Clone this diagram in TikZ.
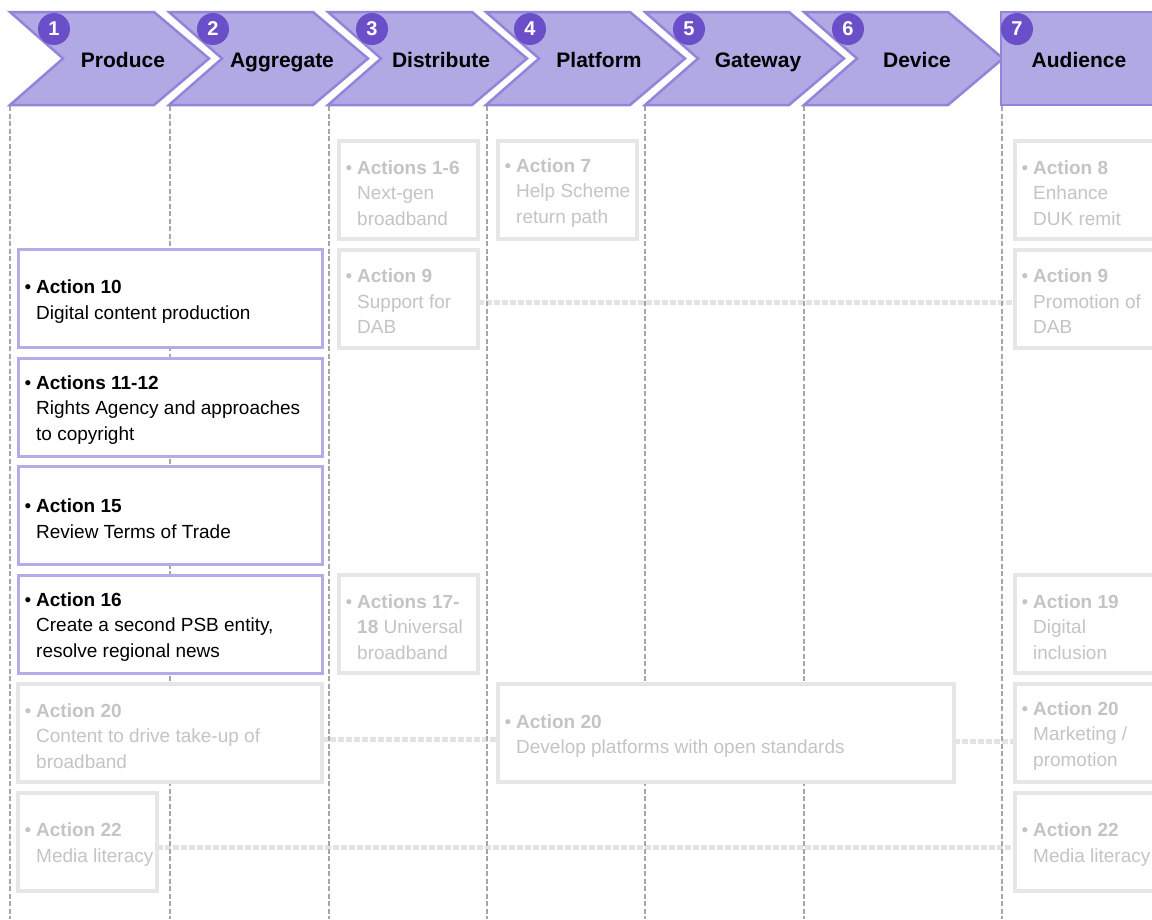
\documentclass[tikz,border=0pt]{standalone}
\usepackage{fontspec}
\setmainfont{Liberation Sans}
\pgfdeclarelayer{background}
\pgfsetlayers{background,main}
\definecolor{chevfill}{HTML}{B1A9E3}
\definecolor{chevline}{HTML}{9383DB}
\definecolor{numfill}{HTML}{6B4FC9}
\definecolor{boxline}{HTML}{B4ACE6}
\definecolor{greyline}{HTML}{E6E6E6}
\definecolor{greytext}{HTML}{C4C4C4}
\definecolor{vline}{HTML}{A6A6A6}
\definecolor{dotline}{HTML}{E3E3E3}
\begin{document}
\begin{tikzpicture}[x=1pt,y=-1pt,
  chev/.style={fill=chevfill,draw=chevline,line width=2.5pt,line join=miter},
  chevlabel/.style={font=\fontsize{21}{24}\selectfont\bfseries,text=black,inner sep=0pt,anchor=base},
  numcirc/.style={circle,fill=numfill,text=white,minimum size=32pt,inner sep=0pt,font=\fontsize{20}{22}\selectfont\bfseries},
  pbox/.style={rectangle,draw=boxline,fill=white,line width=3pt,anchor=north west,minimum height=98pt,inner sep=0pt,outer sep=0pt},
  gbox/.style={rectangle,draw=greyline,fill=white,line width=4pt,anchor=north west,minimum height=98pt,inner sep=0pt,outer sep=0pt},
  txt/.style={anchor=west,align=left,inner sep=0pt,text=black,font=\fontsize{19}{25.5}\selectfont,yshift=-3pt},
  gtxt/.style={txt,text=greytext},
  vdash/.style={draw=vline,line width=1.8pt,dash pattern=on 5pt off 2.5pt},
  dotc/.style={draw=dotline,line width=5pt,dash pattern=on 6pt off 2pt}]
\useasboundingbox (0,0) rectangle (1152,919);

% header chevrons
\foreach \L/\n/\lab in {10/1/Produce,169/2/Aggregate,328/3/Distribute,486/4/Platform,645/5/Gateway,804/6/Device}{
  \draw[chev] (\L,12) -- ({\L+144},12) -- ({\L+199},58.5) -- ({\L+144},105) -- (\L,105) -- ({\L+53},58.5) -- cycle;
  \node[chevlabel] (lab\n) at ({\L+113},67) {\lab};
  \node[numcirc] (num\n) at ({\L+44},29) {\n};
}
\draw[chev] (1001,12) rectangle (1175,105);
\node[chevlabel] (lab7) at (1079,67) {Audience};
\node[numcirc] (num7) at (1017,29) {7};

% purple boxes
\node[pbox,minimum width=304pt] (b10) at (18,249.5) {};
\node[txt] (t10) at ([xshift=18pt]b10.west) {\llap{\textbullet\hspace{5pt}}\textbf{Action 10}\\Digital content production};
\node[pbox,minimum width=304pt] (b11) at (18,358) {};
\node[txt] (t11) at ([xshift=18pt]b11.west) {\llap{\textbullet\hspace{5pt}}\textbf{Actions 11-12}\\Rights Agency and approaches\\to copyright};
\node[pbox,minimum width=304pt] (b15) at (18,466.5) {};
\node[txt] (t15) at ([xshift=18pt]b15.west) {\llap{\textbullet\hspace{5pt}}\textbf{Action 15}\\Review Terms of Trade};
\node[pbox,minimum width=304pt] (b16) at (18,575) {};
\node[txt] (t16) at ([xshift=18pt]b16.west) {\llap{\textbullet\hspace{5pt}}\textbf{Action 16}\\Create a second PSB entity,\\resolve regional news};

% grey boxes
\node[gbox,minimum width=139pt] (g16) at (339,141) {};
\node[gtxt] (tg16) at ([xshift=18pt]g16.west) {\llap{\textbullet\hspace{5pt}}\textbf{Actions 1-6}\\Next-gen\\broadband};
\node[gbox,minimum width=139pt] (g7) at (498,141) {};
\node[gtxt] (tg7) at ([xshift=18pt]g7.west) {\llap{\textbullet\hspace{5pt}}\textbf{Action 7}\\Help Scheme\\return path};
\node[gbox,minimum width=170pt] (g8) at (1015,141) {};
\node[gtxt] (tg8) at ([xshift=18pt]g8.west) {\llap{\textbullet\hspace{5pt}}\textbf{Action 8}\\Enhance\\DUK remit};
\node[gbox,minimum width=139pt] (g9a) at (339,249.5) {};
\node[gtxt] (tg9a) at ([xshift=18pt]g9a.west) {\llap{\textbullet\hspace{5pt}}\textbf{Action 9}\\Support for\\DAB};
\node[gbox,minimum width=170pt] (g9b) at (1015,249.5) {};
\node[gtxt] (tg9b) at ([xshift=18pt]g9b.west) {\llap{\textbullet\hspace{5pt}}\textbf{Action 9}\\Promotion of\\DAB};
\node[gbox,minimum width=139pt] (g17) at (339,575) {};
\node[gtxt] (tg17) at ([xshift=18pt]g17.west) {\llap{\textbullet\hspace{5pt}}\textbf{Actions 17-}\\\textbf{18} Universal\\broadband};
\node[gbox,minimum width=170pt] (g19) at (1015,575) {};
\node[gtxt] (tg19) at ([xshift=18pt]g19.west) {\llap{\textbullet\hspace{5pt}}\textbf{Action 19}\\Digital\\inclusion};
\node[gbox,minimum width=304pt] (g20a) at (18,684) {};
\node[gtxt] (tg20a) at ([xshift=18pt]g20a.west) {\llap{\textbullet\hspace{5pt}}\textbf{Action 20}\\Content to drive take-up of\\broadband};
\node[gbox,minimum width=456pt] (g20b) at (498,684) {};
\node[gtxt] (tg20b) at ([xshift=18pt]g20b.west) {\llap{\textbullet\hspace{5pt}}\textbf{Action 20}\\Develop platforms with open standards};
\node[gbox,minimum width=170pt] (g20c) at (1015,684) {};
\node[gtxt] (tg20c) at ([xshift=18pt]g20c.west) {\llap{\textbullet\hspace{5pt}}\textbf{Action 20}\\Marketing /\\promotion};
\node[gbox,minimum width=139pt] (g22a) at (18,792.5) {};
\node[gtxt] (tg22a) at ([xshift=18pt]g22a.west) {\llap{\textbullet\hspace{5pt}}\textbf{Action 22}\\Media literacy};
\node[gbox,minimum width=170pt] (g22b) at (1015,792.5) {};
\node[gtxt] (tg22b) at ([xshift=18pt]g22b.west) {\llap{\textbullet\hspace{5pt}}\textbf{Action 22}\\Media literacy};

\begin{pgfonlayer}{background}
  \draw[dotc] ([yshift=-4pt]g9a.east) -- ([yshift=-4pt]g9b.west);
  \draw[dotc] ([yshift=-6pt]g20a.east) -- ([yshift=-6pt]g20b.west);
  \draw[dotc] ([yshift=-8pt]g20b.east) -- ([yshift=-8pt]g20c.west);
  \draw[dotc] ([yshift=-6pt]g22a.east) -- ([yshift=-6pt]g22b.west);
  \foreach \x in {10,170,329,487,645,804,1002}{
    \draw[vdash] (\x,106) -- (\x,919);
  }
\end{pgfonlayer}
\end{tikzpicture}
\end{document}
